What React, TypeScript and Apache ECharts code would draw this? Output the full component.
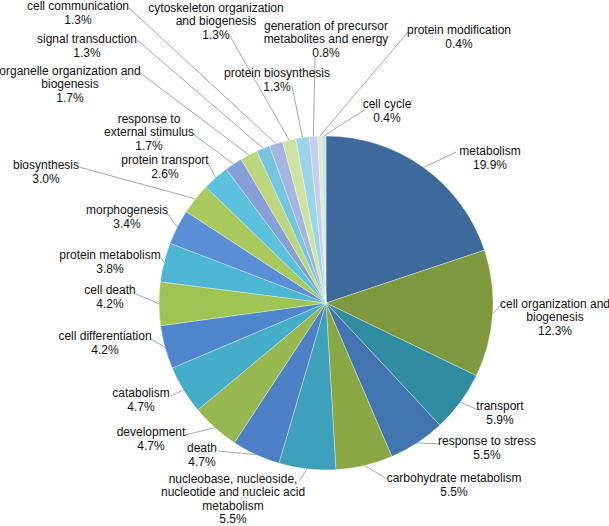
import React, { useEffect, useRef } from "react";
import * as echarts from "echarts";

// Categories (clockwise from 12 o'clock)
const categories: string[] = [
  "metabolism",
  "cell organization and\nbiogenesis",
  "transport",
  "response to stress",
  "carbohydrate metabolism",
  "nucleobase, nucleoside,\nnucleotide and nucleic acid\nmetabolism",
  "death",
  "development",
  "catabolism",
  "cell differentiation",
  "cell death",
  "protein metabolism",
  "morphogenesis",
  "biosynthesis",
  "protein transport",
  "response to\nexternal stimulus",
  "organelle organization and\nbiogenesis",
  "signal transduction",
  "cell communication",
  "cytoskeleton organization\nand biogenesis",
  "protein biosynthesis",
  "generation of precursor\nmetabolites and energy",
  "protein modification",
  "cell cycle",
];

// Percentages
const percents: number[] = [
  19.9, 12.3, 5.9, 5.5, 5.5, 5.5, 4.7, 4.7, 4.7, 4.2, 4.2, 3.8, 3.4, 3.0, 2.6,
  1.7, 1.7, 1.3, 1.3, 1.3, 1.3, 0.8, 0.4, 0.4,
];

// Slice colours
const colors: string[] = [
  "#3D6A9A", "#7F9A3E", "#318CA2", "#4275B0", "#8AA745", "#3FA0BB",
  "#4D80C4", "#97B851", "#45ADC8", "#4F85CB", "#9EC454", "#4DB6D4",
  "#5B8FD5", "#A9C95F", "#5BC1DD", "#869FD8", "#BCD77F", "#74C5E0",
  "#A4B5E2", "#CFE3A0", "#9AD5EA", "#C4CFEE", "#DDEBC0", "#BEE3F2",
];

// Label layout (block centre) and leader-line end points, in pixels
const labelCenters: [number, number][] = [
  [490, 158], [555, 317], [500, 413], [487, 448], [454, 485], [233, 499],
  [202, 455], [151, 439], [141, 400], [105, 343], [110, 297], [110, 262],
  [127, 217], [46, 172], [165, 167], [149, 132], [70, 84], [87, 46],
  [78, 13], [216, 21], [277, 80], [326, 39], [459, 37], [387, 111],
];
const lineEnds: [number, number][] = [
  [456, 152], [503, 303], [478, 410], [440, 444], [387, 479], [299, 481],
  [218, 451], [185, 435], [171, 396], [151, 339], [136, 294], [161, 258],
  [167, 213], [79, 167], [208, 163], [193, 134], [139, 72], [137, 40],
  [129, 8], [230, 36], [292, 86], [315, 57], [408, 32], [364, 110],
];

export default function App() {
  const ref = useRef<HTMLDivElement>(null);
  useEffect(() => {
    if (!ref.current) return;
    const chart = echarts.init(ref.current, null, { renderer: "svg" });
    chart.setOption({
      animation: false,
      backgroundColor: "#ffffff",
      series: [
        {
          type: "pie",
          center: [326, 303],
          radius: [0, 167],
          startAngle: 90,
          clockwise: true,
          avoidLabelOverlap: false,
          minShowLabelAngle: 0,
          data: categories.map((name, i) => ({
            name,
            value: percents[i],
            itemStyle: { color: colors[i] },
          })),
          itemStyle: {
            borderColor: "rgba(255,255,255,0.45)",
            borderWidth: 0.7,
          },
          label: {
            show: true,
            position: "outer",
            alignTo: "none",
            formatter: (p: any) => `${p.name}\n${p.value.toFixed(1)}%`,
            fontFamily: "'Liberation Sans', Arial, sans-serif",
            fontSize: 12,
            lineHeight: 13.5,
            color: "#111111",
            align: "center",
          },
          labelLine: {
            show: true,
            length: 10,
            length2: 10,
            lineStyle: { color: "#a6a6a6", width: 1 },
          },
          labelLayout: (params: any) => {
            const i = params.dataIndex;
            const [cx, cy] = labelCenters[i];
            const end = lineEnds[i];
            const pts = params.labelLinePoints;
            const p0 = pts && pts[0] ? [pts[0][0], pts[0][1]] : end;
            return {
              x: cx,
              y: cy,
              align: "center",
              verticalAlign: "middle",
              labelLinePoints: [p0, end, end],
            };
          },
        },
      ],
    });
    return () => chart.dispose();
  }, []);
  return (
    <div
      ref={ref}
      style={{ position: "absolute", left: 0, top: 0, width: 609, height: 526 }}
    />
  );
}
